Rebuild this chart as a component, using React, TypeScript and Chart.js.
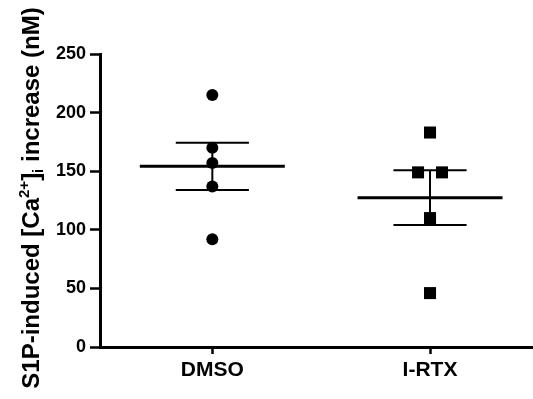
import React, { useEffect, useRef } from 'react';
import { Chart, registerables } from 'chart.js';

Chart.register(...registerables);

const categories = ['DMSO', 'I-RTX'];
const dmsoValues = [215, 170, 157, 137, 92];
const irtxValues = [183, 149, 149, 110, 46];
const dmsoJitter = [0, 0, 0, 0, 0];
const irtxJitter = [0, -0.055, 0.055, 0, 0];
const yTicks = [0, 50, 100, 150, 200, 250];

const FONT = 'Arial, "Liberation Sans", Helvetica, sans-serif';

function mean(a: number[]) {
  return a.reduce((s, v) => s + v, 0) / a.length;
}
function sem(a: number[]) {
  const m = mean(a);
  const v = a.reduce((s, x) => s + (x - m) * (x - m), 0) / (a.length - 1);
  return Math.sqrt(v) / Math.sqrt(a.length);
}

const MEAN_HALF = 0.333;
const CAP_HALF = 0.168;

function segment(x1: number, y1: number, x2: number, y2: number, width: number) {
  return {
    type: 'scatter' as const,
    data: [{ x: x1, y: y1 }, { x: x2, y: y2 }],
    showLine: true,
    borderColor: '#000',
    borderWidth: width,
    pointRadius: 0,
    pointHoverRadius: 0,
    borderCapStyle: 'butt' as const,
    order: 2,
    clip: false as const,
  };
}

function groupLines(center: number, values: number[]) {
  const m = mean(values);
  const s = sem(values);
  return [
    segment(center - MEAN_HALF, m, center + MEAN_HALF, m, 3),
    segment(center, m - s, center, m + s, 2),
    segment(center - CAP_HALF, m + s, center + CAP_HALF, m + s, 2),
    segment(center - CAP_HALF, m - s, center + CAP_HALF, m - s, 2),
  ];
}

const yTitlePlugin = {
  id: 'yTitle',
  afterDraw(chart: any) {
    const ctx = chart.ctx as CanvasRenderingContext2D;
    const big = `bold 24px ${FONT}`;
    const small = `bold 15px ${FONT}`;
    const parts = [
      { t: 'S1P-induced [Ca', f: big, dy: 0 },
      { t: '2+', f: small, dy: -10 },
      { t: ']', f: big, dy: 0 },
      { t: 'i', f: small, dy: 4 },
      { t: ' increase (nM)', f: big, dy: 0 },
    ];
    ctx.save();
    ctx.fillStyle = '#000';
    ctx.textBaseline = 'alphabetic';
    ctx.textAlign = 'left';
    let total = 0;
    const widths = parts.map((p) => {
      ctx.font = p.f;
      const w = ctx.measureText(p.t).width;
      total += w;
      return w;
    });
    ctx.translate(39, 198);
    ctx.rotate(-Math.PI / 2);
    let x = -total / 2;
    parts.forEach((p, i) => {
      ctx.font = p.f;
      ctx.fillText(p.t, x, p.dy);
      x += widths[i];
    });
    ctx.restore();
  },
};

export default function App() {
  const ref = useRef<HTMLCanvasElement | null>(null);

  useEffect(() => {
    if (!ref.current) return;
    const datasets: any[] = [
      {
        type: 'scatter',
        label: categories[0],
        data: dmsoValues.map((v, i) => ({ x: 1 + dmsoJitter[i], y: v })),
        pointStyle: 'circle',
        pointRadius: 6,
        backgroundColor: '#000',
        borderColor: '#000',
        borderWidth: 0,
        order: 0,
        clip: false,
      },
      {
        type: 'scatter',
        label: categories[1],
        data: irtxValues.map((v, i) => ({ x: 2 + irtxJitter[i], y: v })),
        pointStyle: 'rect',
        pointRadius: 8.5,
        backgroundColor: '#000',
        borderColor: '#000',
        borderWidth: 0,
        order: 0,
        clip: false,
      },
      ...groupLines(1, dmsoValues),
      ...groupLines(2, irtxValues),
    ];

    const chart = new Chart(ref.current, {
      type: 'scatter',
      data: { datasets },
      options: {
        animation: false,
        responsive: false,
        devicePixelRatio: 1,
        events: [],
        layout: { autoPadding: false, padding: { top: 54, right: 0, left: 0, bottom: 0 } },
        plugins: {
          legend: { display: false },
          tooltip: { enabled: false },
          title: { display: false },
        },
        scales: {
          x: {
            type: 'linear',
            position: 'bottom',
            min: 0.484,
            max: 2.473,
            afterBuildTicks: (scale: any) => {
              scale.ticks = categories.map((_, i) => ({ value: i + 1 }));
            },
            afterFit: (scale: any) => {
              scale.height = 52;
              scale.paddingLeft = 0;
              scale.paddingRight = 0;
            },
            ticks: {
              callback: (v: any) => categories[Math.round(Number(v)) - 1] ?? '',
              font: { family: FONT, size: 21, weight: 'bold' },
              color: '#000',
              padding: 4,
              maxRotation: 0,
              autoSkip: false,
            },
            grid: {
              drawOnChartArea: false,
              drawTicks: true,
              tickLength: 7,
              tickWidth: 2.5,
              tickColor: '#000',
            },
            border: { display: true, color: '#000', width: 3 },
          },
          y: {
            type: 'linear',
            min: 0,
            max: 250,
            afterBuildTicks: (scale: any) => {
              scale.ticks = yTicks.map((v) => ({ value: v }));
            },
            afterFit: (scale: any) => {
              scale.width = 100;
              scale.paddingTop = 0;
              scale.paddingBottom = 0;
            },
            ticks: {
              font: { family: FONT, size: 18, weight: 'bold' },
              color: '#000',
              padding: 4,
            },
            grid: {
              drawOnChartArea: false,
              drawTicks: true,
              tickLength: 10,
              tickWidth: 2.5,
              tickColor: '#000',
            },
            border: { display: true, color: '#000', width: 3 },
          },
        },
      } as any,
      plugins: [yTitlePlugin],
    });
    return () => chart.destroy();
  }, []);

  return (
    <div style={{ position: 'fixed', left: 0, top: 0, width: 533, height: 399, background: '#fff' }}>
      <canvas ref={ref} width={533} height={399} style={{ width: 533, height: 399, display: 'block' }} />
    </div>
  );
}
